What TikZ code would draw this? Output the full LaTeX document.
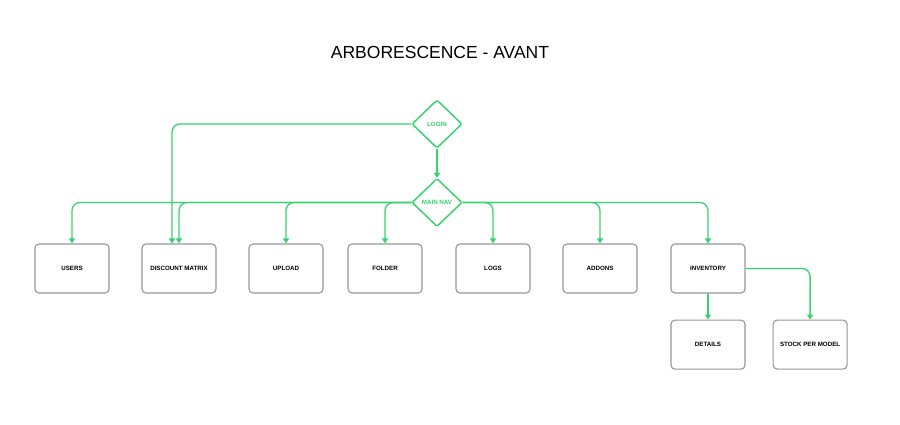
\documentclass[tikz,border=0pt]{standalone}
\usepackage{fontspec}
\setmainfont{Liberation Sans}
\usetikzlibrary{shapes.geometric}
\usetikzlibrary{arrows.meta}
\usetikzlibrary{positioning}
\definecolor{navGreen}{RGB}{52,211,110}
\definecolor{boxGray}{RGB}{150,150,150}
\begin{document}
\begin{tikzpicture}[x=1pt,y=-1pt]

\tikzstyle{pageBox}=[rectangle,align=center,minimum width=74pt,minimum height=49pt,draw=boxGray,line width=1.1pt,rounded corners=4pt,fill=white,font=\fontsize{6.2pt}{7pt}\selectfont\bfseries];
\tikzstyle{navBox}=[diamond,aspect=1,minimum width=50pt,minimum height=48pt,inner sep=0pt,draw=navGreen,line width=1.3pt,rounded corners=1.5pt,fill=white,text=navGreen,font=\fontsize{6.2pt}{7pt}\selectfont\bfseries];
\tikzstyle{link}=[draw=navGreen,line width=1.3pt,rounded corners=8pt,-{Triangle[width=6pt,length=5pt]}];

\useasboundingbox (0,0) rectangle (900,424);

\node (title) at (440,52) {\fontsize{17.5pt}{20pt}\selectfont ARBORESCENCE - AVANT};

\node [navBox] (login) at (437,124) {LOGIN};
\node [navBox] (mainnav) at (437,202.5) {MAIN NAV};

\foreach \x/\n/\t in {72/users/USERS,179/discount/DISCOUNT MATRIX,286/upload/UPLOAD,385/folder/FOLDER,493/logs/LOGS,600/addons/ADDONS,708/inventory/INVENTORY}{
	\node [pageBox] (\n) at (\x,268.5) {\t};
};

\node [pageBox, below=26pt of inventory] (details) {DETAILS};
\node [pageBox, right=27pt of details] (stock) {STOCK PER MODEL};

%\draw [link] (login.south) -- (mainnav.north);
\draw [link] (login) -- (mainnav.north);
\draw [link] (login.west) -| ([xshift=-7pt]discount.north);

\foreach \n in {users,discount,upload,folder}{
	\draw [link] (mainnav.west) -| (\n.north);
};
\foreach \n in {logs,addons,inventory}{
	\draw [link] (mainnav.east) -| (\n.north);
};

\draw [link] (inventory) -- (details.north);
\draw [link] (inventory.east) -| (stock.north);

\node [navBox] at (login) {LOGIN};
\node [navBox] at (mainnav) {MAIN NAV};

\end{tikzpicture}
\end{document}
